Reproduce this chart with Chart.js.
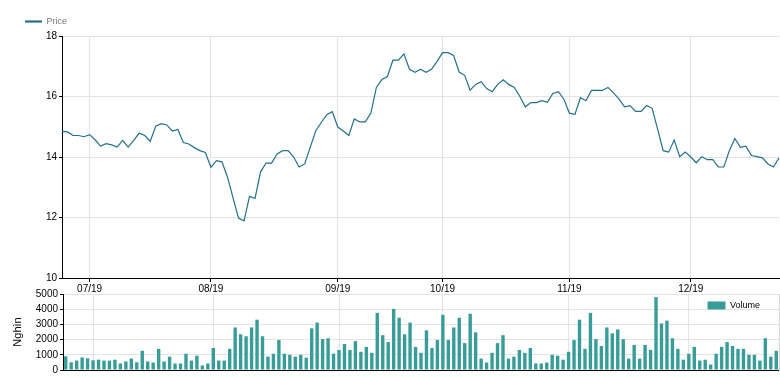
<!DOCTYPE html>
<html>
<head>
<meta charset="utf-8">
<script src="https://cdn.jsdelivr.net/npm/chart.js@4.4.1/dist/chart.umd.min.js"></script>
<style>
  html, body { margin: 0; padding: 0; background: #fff; }
  body { width: 780px; height: 378px; position: relative; overflow: hidden; }
  .box { position: absolute; left: 0; width: 780px; }
  #priceBox { top: 0; height: 296px; }
  #volBox { top: 286px; height: 92px; }
</style>
</head>
<body>
<div class="box" id="priceBox"><canvas id="priceChart"></canvas></div>
<div class="box" id="volBox"><canvas id="volChart"></canvas></div>
<script>
// month of each trading session (tick labels) and how many sessions fall in it
const months = ['06/19', '07/19', '08/19', '09/19', '10/19', '11/19', '12/19'];
const sessionsPerMonth = [5, 22, 23, 19, 23, 22, 17];

const price = [
  14.85, 14.83, 14.71, 14.71, 14.67, 14.74, 14.57, 14.36, 14.44, 14.40,
  14.33, 14.55, 14.33, 14.55, 14.79, 14.71, 14.52, 15.02, 15.10, 15.06,
  14.86, 14.91, 14.48, 14.43, 14.31, 14.21, 14.15, 13.66, 13.88, 13.84,
  13.34, 12.66, 11.98, 11.89, 12.70, 12.63, 13.51, 13.80, 13.80, 14.10,
  14.21, 14.21, 14.00, 13.67, 13.77, 14.32, 14.86, 15.14, 15.40, 15.50,
  14.99, 14.86, 14.71, 15.26, 15.16, 15.16, 15.45, 16.30, 16.56, 16.66,
  17.20, 17.20, 17.41, 16.90, 16.80, 16.90, 16.80, 16.90, 17.16, 17.45,
  17.45, 17.36, 16.81, 16.70, 16.21, 16.40, 16.49, 16.26, 16.16, 16.40,
  16.55, 16.40, 16.30, 16.01, 15.66, 15.80, 15.80, 15.86, 15.81, 16.10,
  16.16, 15.91, 15.45, 15.41, 15.96, 15.86, 16.20, 16.20, 16.20, 16.30,
  16.12, 15.91, 15.66, 15.70, 15.51, 15.51, 15.70, 15.61, 14.91, 14.21,
  14.16, 14.56, 14.01, 14.16, 14.00, 13.81, 14.01, 13.91, 13.91, 13.67,
  13.67, 14.21, 14.61, 14.32, 14.36, 14.05, 14.01, 13.97, 13.77, 13.67,
  13.97
];

// volume in thousands (Nghìn)
const volume = [
  900, 510, 620, 830, 770, 640, 680, 620, 620, 680,
  430, 560, 750, 510, 1260, 560, 490, 1390, 560, 880,
  430, 430, 1070, 620, 940, 300, 430, 1450, 620, 620,
  1390, 2800, 2350, 2220, 2800, 3310, 2220, 880, 1070, 1970,
  1070, 1000, 880, 1000, 810, 2740, 3120, 2030, 2090, 1070,
  1320, 1710, 1320, 1900, 1200, 1520, 1130, 3760, 2290, 1840,
  4020, 3440, 2350, 3120, 1520, 1130, 2610, 1450, 1970, 3630,
  1970, 2800, 3440, 1770, 3700, 2480, 750, 490, 1130, 1770,
  2290, 750, 880, 1320, 1130, 1450, 430, 430, 490, 1000,
  940, 680, 1200, 1970, 3310, 1390, 3760, 2030, 1580, 2800,
  2410, 2670, 2030, 750, 1650, 750, 1650, 1320, 4790, 3060,
  3250, 2090, 1390, 680, 1070, 1520, 620, 680, 360, 1070,
  1520, 1840, 1580, 1390, 1390, 1000, 1000, 620, 2090, 880,
  1260
];

const FONT = "'Liberation Sans', Arial, sans-serif";
const LINE = '#236f8c';
const BAR = '#389c98';
const GRID = '#e4e4e4';

const labels = [];
months.forEach((m, k) => {
  for (let j = 0; j < sessionsPerMonth[k]; j++) labels.push(m);
});

const isMonthStart = i => i > 0 && labels[i] !== labels[i - 1];
const monthTick = (val, i) => isMonthStart(i) ? labels[i] : '';
const monthGrid = ctx => isMonthStart(ctx.index) ? GRID : 'rgba(0,0,0,0)';
const monthTickColor = ctx => isMonthStart(ctx.index) ? '#000' : 'rgba(0,0,0,0)';

// chartArea legends stack on the left; push it to the top right corner instead
const legendTopRight = {
  id: 'legendTopRight',
  afterLayout(chart) {
    const lg = chart.legend;
    if (!lg || !lg.legendHitBoxes.length) return;
    const pad = lg.options.labels.padding;
    lg.left = chart.chartArea.right - lg.legendHitBoxes[0].width - 19 - pad;
  }
};

Chart.defaults.font.family = FONT;
Chart.defaults.font.size = 10;

new Chart(document.getElementById('priceChart'), {
  type: 'line',
  data: {
    labels,
    datasets: [{
      label: 'Price',
      data: price,
      borderColor: LINE,
      backgroundColor: LINE,
      borderWidth: 1.2,
      pointRadius: 0,
      tension: 0
    }]
  },
  options: {
    responsive: true,
    maintainAspectRatio: false,
    animation: false,
    layout: { padding: { left: 15, top: 7, right: 0, bottom: 0 } },
    plugins: {
      legend: {
        position: 'top',
        align: 'start',
        labels: {
          usePointStyle: true,
          pointStyle: 'line',
          pointStyleWidth: 17,
          color: '#777',
          font: { size: 9 },
          padding: 10,
          // slightly thicker swatch than the plotted line
          generateLabels: chart => Chart.defaults.plugins.legend.labels.generateLabels(chart)
            .map(item => ({ ...item, lineWidth: 2.2 }))
        }
      },
      tooltip: { enabled: false }
    },
    scales: {
      x: {
        grid: { color: monthGrid, tickColor: monthTickColor, tickLength: 4 },
        border: { color: '#000' },
        ticks: { autoSkip: false, maxRotation: 0, padding: 1, color: '#000', callback: monthTick },
        afterFit: s => { s.height = 18; }
      },
      y: {
        min: 10,
        max: 18,
        ticks: { stepSize: 2, color: '#000', padding: 2 },
        grid: { color: GRID, tickColor: '#000', tickLength: 3 },
        border: { color: '#000' },
        afterFit: s => { s.width = 47; }
      }
    }
  }
});

new Chart(document.getElementById('volChart'), {
  type: 'bar',
  data: {
    labels,
    datasets: [{
      label: 'Volume',
      data: volume,
      backgroundColor: BAR,
      barPercentage: 0.62,
      categoryPercentage: 1
    }]
  },
  options: {
    responsive: true,
    maintainAspectRatio: false,
    animation: false,
    layout: { padding: { left: 7, top: 0, right: 1, bottom: 0 } },
    plugins: {
      legend: {
        position: 'chartArea',
        align: 'start',
        labels: { boxWidth: 18, boxHeight: 8, color: '#000', font: { size: 9 }, padding: 15 }
      },
      tooltip: { enabled: false }
    },
    scales: {
      x: {
        offset: true,
        grid: { offset: false, color: monthGrid, drawTicks: false },
        border: { color: '#000' },
        ticks: { display: false }
      },
      y: {
        min: 0,
        max: 5000,
        ticks: { stepSize: 1000, color: '#000', padding: 2, callback: v => String(v) },
        grid: { color: GRID, tickColor: '#000', tickLength: 3 },
        border: { color: '#000' },
        title: { display: true, text: 'Nghìn', color: '#000', font: { size: 11 }, padding: { top: 4, bottom: 0 } },
        afterFit: s => { s.width = 56; }
      },
      y1: {
        position: 'right',
        ticks: { display: false },
        grid: { display: false },
        border: { color: '#d8d8d8' },
        afterFit: s => { s.width = 0; }
      }
    }
  },
  plugins: [legendTopRight]
});
</script>
</body>
</html>
